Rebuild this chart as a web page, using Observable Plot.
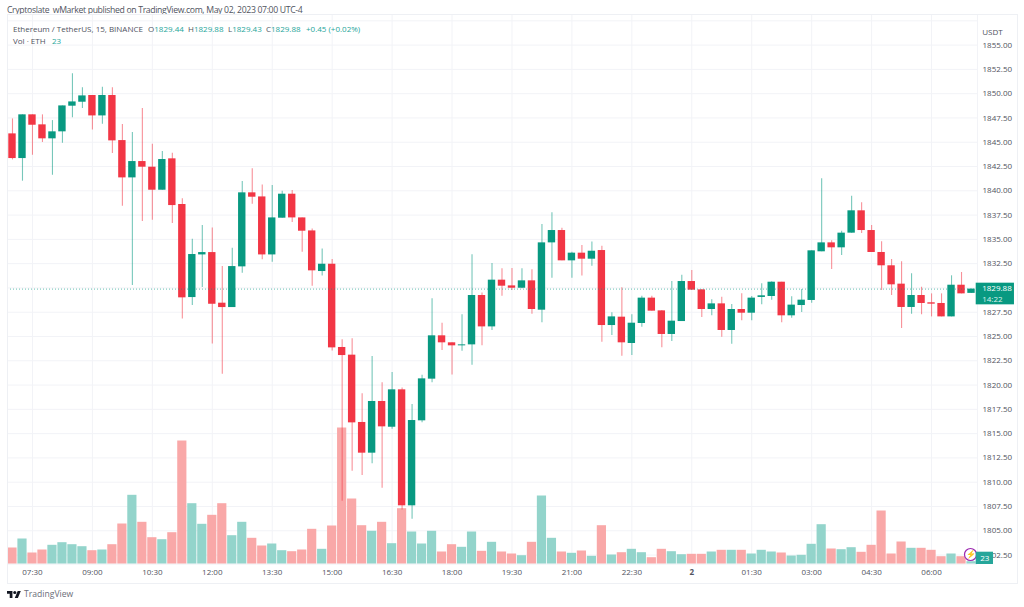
<!DOCTYPE html>
<html>
<head>
<meta charset="utf-8">
<script src="https://cdn.jsdelivr.net/npm/d3@7"></script>
<script src="https://cdn.jsdelivr.net/npm/@observablehq/plot@0.6"></script>
<style>
  html, body { margin: 0; padding: 0; background: #fff; }
  body { width: 1024px; height: 607px; overflow: hidden; position: relative;
         font-family: "Open Sans", sans-serif; color: #50535e; }
  #title { position: absolute; left: 7px; top: 3px; font-size: 8.7px; letter-spacing: -0.35px; line-height: 14px; white-space: nowrap; color: #50535e; }
  #chart { position: absolute; left: 0; top: 14px; }
  #box { position: absolute; left: 7px; top: 14px; width: 1009px; height: 568px; border: 1px solid #eef0f4; pointer-events: none; }
  .leg { position: absolute; font-size: 8px; line-height: 12px; white-space: nowrap; color: #50535e; }
  .leg b { font-weight: 400; color: #26a69a; }
  #footer { position: absolute; left: 7px; top: 588px; display: flex; align-items: center; gap: 3px;
            font-size: 8.6px; line-height: 13px; color: #6a6d78; }
  svg text { font-family: "Open Sans", sans-serif; }
</style>
</head>
<body>
<div id="title">Cryptoslate_wMarket published on TradingView.com, May 02, 2023 07:00 UTC-4</div>
<div id="chart"></div>
<div id="box"></div>
<div class="leg" style="left:13px;top:23px">Ethereum / TetherUS, 15, BINANCE</div>
<div class="leg" style="left:148px;top:23px">O<b>1829.44</b></div>
<div class="leg" style="left:188px;top:23px">H<b>1829.88</b></div>
<div class="leg" style="left:228px;top:23px">L<b>1829.43</b></div>
<div class="leg" style="left:266px;top:23px">C<b>1829.88</b></div>
<div class="leg" style="left:306px;top:23px"><b>+0.45 (+0.02%)</b></div>
<div class="leg" style="left:13px;top:35px">Vol · ETH</div>
<div class="leg" style="left:52px;top:35px"><b>23</b></div>
<div id="footer">
  <svg width="14" height="7" viewBox="0 4 36 18" fill="#131722"><path d="M14 22H7V11H0V4h14v18zM28 22h-8l7.5-18h8L28 22z"/><circle cx="20" cy="8" r="4"/></svg>
  <span>TradingView</span>
</div>
<script>
const opens = [
1845.86,1843.32,1847.82,1846.79,1845.35,1846.07,1848.71,1849.12,1849.81,1847.71,
1849.81,1845.17,1841.33,1843.01,1842.43,1840.06,1843.29,1838.59,1829.01,1833.40,
1833.64,1828.43,1827.98,1832.17,1839.79,1839.37,1833.40,1837.18,1839.65,1837.21,
1835.87,1831.69,1832.44,1823.87,1823.08,1816.15,1812.99,1818.31,1815.66,1819.51,
1807.57,1816.32,1820.61,1825.07,1824.35,1824.04,1824.14,1829.22,1825.99,1830.80,
1830.21,1829.97,1830.73,1827.71,1834.64,1835.91,1832.79,1833.58,1832.96,1833.85,
1826.13,1826.99,1824.28,1826.34,1828.95,1827.64,1825.21,1826.54,1830.66,1829.80,
1827.78,1828.36,1825.62,1827.78,1827.40,1829.02,1829.12,1830.59,1827.13,1828.19,
1828.71,1833.72,1834.64,1834.13,1835.64,1837.94,1835.91,1833.65,1832.28,1830.39,
1827.99,1829.22,1828.47,1828.40,1827.02,1830.28,1829.44];
const highs = [
1847.40,1847.82,1847.82,1847.82,1847.23,1848.74,1852.04,1850.60,1849.81,1850.66,
1850.60,1846.82,1846.00,1848.47,1844.80,1844.04,1843.87,1839.17,1835.02,1836.42,
1836.18,1832.20,1834.09,1840.95,1842.26,1840.61,1840.54,1839.96,1840.03,1837.21,
1836.08,1834.02,1832.92,1824.66,1824.76,1819.10,1822.94,1820.23,1821.29,1819.71,
1818.00,1821.02,1828.88,1826.37,1824.35,1827.23,1833.41,1829.49,1832.51,1831.97,
1832.00,1831.97,1831.86,1836.53,1837.73,1836.15,1833.68,1834.37,1834.74,1834.30,
1827.44,1830.01,1827.23,1829.15,1829.15,1827.68,1830.66,1831.31,1831.79,1829.84,
1828.78,1829.05,1828.29,1829.39,1829.12,1830.42,1830.63,1830.59,1829.09,1829.84,
1833.82,1841.23,1834.85,1835.84,1839.45,1838.76,1836.43,1834.75,1832.93,1832.69,
1831.45,1830.08,1829.39,1829.39,1831.25,1831.59,1829.88];
const lows = [
1843.18,1840.99,1843.66,1844.97,1841.60,1844.90,1847.51,1848.47,1846.27,1846.86,
1843.84,1838.41,1830.25,1836.83,1836.97,1840.06,1836.63,1826.81,1828.19,1830.04,
1824.24,1821.12,1827.98,1831.52,1838.62,1832.89,1832.65,1837.18,1836.73,1833.68,
1830.18,1831.24,1823.52,1808.05,1811.13,1810.69,1811.89,1809.38,1815.46,1807.15,
1806.19,1816.11,1820.23,1823.56,1821.05,1823.49,1822.05,1824.04,1825.62,1829.15,
1829.73,1829.91,1827.30,1826.41,1831.00,1832.79,1831.00,1831.24,1832.24,1824.42,
1825.10,1822.97,1823.04,1825.96,1827.61,1823.83,1824.49,1826.54,1829.77,1826.96,
1827.13,1824.93,1824.21,1826.61,1826.61,1828.26,1828.74,1826.41,1826.89,1827.47,
1828.43,1833.72,1831.90,1833.34,1835.64,1835.60,1833.65,1829.74,1829.22,1825.82,
1827.30,1827.23,1827.02,1827.02,1827.02,1829.39,1829.43];
const closes = [
1843.32,1847.82,1846.75,1845.35,1846.07,1848.74,1849.15,1849.77,1847.71,1849.81,
1845.14,1841.33,1843.01,1842.43,1840.06,1843.22,1838.48,1828.98,1833.44,1833.64,
1828.32,1827.98,1832.20,1839.79,1839.34,1833.40,1837.21,1839.65,1837.21,1835.84,
1831.76,1832.44,1823.83,1823.04,1816.11,1812.99,1818.31,1815.70,1819.51,1807.57,
1816.35,1820.64,1825.07,1824.35,1824.04,1824.14,1829.22,1825.99,1830.80,1830.18,
1829.97,1830.73,1827.78,1834.64,1835.91,1832.79,1833.58,1832.96,1833.78,1826.13,
1827.02,1824.35,1826.37,1828.95,1827.61,1825.21,1826.58,1830.66,1829.77,1827.78,
1828.36,1825.62,1827.78,1827.40,1828.95,1829.19,1830.59,1827.13,1828.23,1828.74,
1833.82,1834.64,1834.13,1835.64,1837.94,1835.91,1833.65,1832.28,1830.32,1827.99,
1829.22,1828.40,1828.33,1827.02,1830.28,1829.39,1829.88];
const volumes = [
160,250,110,140,187,213,193,173,133,140,
193,400,687,417,263,243,313,1230,603,397,
487,603,283,417,257,180,200,133,123,140,
347,147,380,1360,650,383,327,417,203,553,
320,200,327,120,193,167,320,127,217,120,
100,83,217,680,257,120,107,130,77,383,
90,113,147,113,63,147,123,93,97,97,
120,137,137,137,100,137,120,110,80,87,
197,393,150,143,163,117,187,530,100,220,
157,157,137,73,100,73,23];
const timeLabels = ["07:30","09:00","10:30","12:00","13:30","15:00","16:30","18:00","19:30","21:00","22:30","2","01:30","03:00","04:30","06:00"];
const timeBars =   [2,8,14,20,26,32,38,44,50,56,62,68,74,80,86,92];
const dayBar = 68;
const priceTicks = [1855,1852.5,1850,1847.5,1845,1842.5,1840,1837.5,1835,1832.5,1830,1827.5,1825,1822.5,1820,1817.5,1815,1812.5,1810,1807.5,1805,1802.5];
const gridPrices = [1857.5, ...priceTicks];
const lastPrice = 1829.88;
const lastVolume = 23;

const UP = "#089981", DOWN = "#f23645", UP_VOL = "#93d4cb", DOWN_VOL = "#f9a8a8";
const priceMin = 1801.58, priceMax = 1858.15;
// volume pane shares the chart's lower edge: this many volume units per price unit
const volPerPrice = 97.14;
const volY = v => priceMin + v / volPerPrice;

const candles = opens.map((o, i) => ({i, o, h: highs[i], l: lows[i], c: closes[i], v: volumes[i], up: closes[i] >= o}));
const timeLabel = d => timeLabels[timeBars.indexOf(d)];

const plot = Plot.plot({
  width: 1024, height: 569,
  marginLeft: 7, marginRight: 47, marginTop: 0, marginBottom: 19.5,
  x: {type: "linear", domain: [-0.5, 96.6]},
  y: {type: "linear", domain: [priceMin, priceMax]},
  marks: [
    Plot.gridX(timeBars, {stroke: "#f2f3f7", strokeOpacity: 1}),
    Plot.gridY(gridPrices, {stroke: "#f2f3f7", strokeOpacity: 1}),
    Plot.ruleX([96.6], {stroke: "#f2f3f7"}),
    Plot.ruleY([priceMin], {stroke: "#eef0f4"}),
    Plot.rectY(candles, {x1: d => d.i - 0.46, x2: d => d.i + 0.46, y1: priceMin, y2: d => volY(d.v),
      fill: d => d.up ? UP_VOL : DOWN_VOL}),
    Plot.ruleX(candles, {x: "i", y1: "l", y2: "h", stroke: d => d.up ? UP : DOWN, strokeOpacity: 0.55, strokeWidth: 1.1}),
    Plot.rect(candles, {x1: d => d.i - 0.37, x2: d => d.i + 0.37,
      y1: d => Math.min(d.o, d.c), y2: d => Math.max(d.o, d.c),
      fill: d => d.up ? UP : DOWN}),
    Plot.ruleY([lastPrice], {stroke: UP, strokeOpacity: 0.6, strokeDasharray: "1 2"}),
    Plot.axisX({ticks: timeBars.filter(d => d !== dayBar), tickSize: 0, tickPadding: 5, fontSize: 8,
      tickFormat: timeLabel, fill: "#50535e", label: null, anchor: "bottom"}),
    Plot.axisX({ticks: [dayBar], tickSize: 0, tickPadding: 5, fontSize: 8, fontWeight: "bold",
      tickFormat: timeLabel, fill: "#50535e", label: null, anchor: "bottom"}),
    Plot.axisY({ticks: priceTicks, tickSize: 0, tickPadding: 5, fontSize: 8, anchor: "right",
      tickFormat: d => d.toFixed(2), fill: "#50535e", label: null}),
    Plot.text(["USDT"], {x: 97.07, y: 1856.3, textAnchor: "start", fontSize: 8, fill: "#50535e"}),
    Plot.dot([lastVolume], {x: 95.9, y: 1802.56, r: 6, stroke: "#9c27b0", strokeWidth: 1.2, fill: "#fff"}),
    Plot.text(["⚡"], {x: 95.9, y: 1802.56, fontSize: 8, fill: "#9c27b0", fontFamily: "DejaVu Sans"}),
    Plot.rect([lastVolume], {x1: 96.47, x2: 98.2, y1: volY(-5), y2: volY(118), fill: "#26a69a"}),
    Plot.text([lastVolume], {x: 97.33, y: volY(57), text: d => String(d), fontSize: 8, fill: "#fff"}),
    Plot.rect([lastPrice], {x1: 96.47, x2: 100.3, y1: 1828.26, y2: 1830.49, fill: UP}),
    Plot.text([lastPrice], {x: 97.07, y: 1829.94, text: d => d.toFixed(2), textAnchor: "start", fontSize: 8, fill: "#fff"}),
    Plot.text(["14:22"], {x: 97.07, y: 1828.8, textAnchor: "start", fontSize: 8, fill: "#d8f1ec"})
  ]
});
plot.style.background = "transparent";
document.getElementById("chart").append(plot);
</script>
</body>
</html>
